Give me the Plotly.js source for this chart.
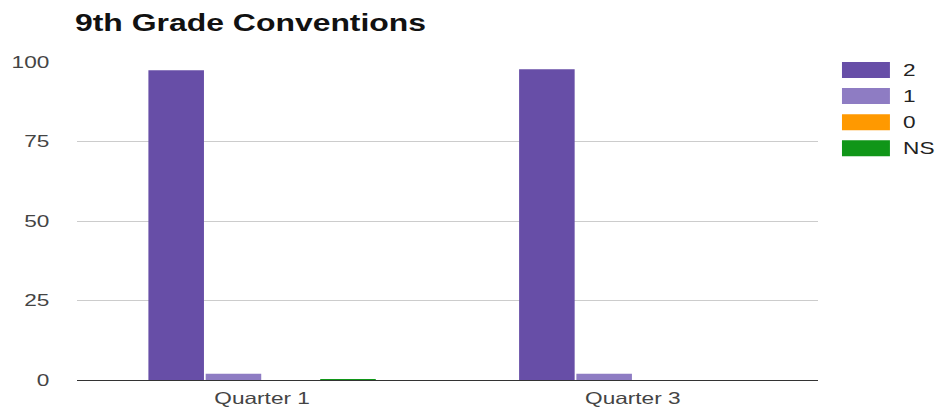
<!DOCTYPE html>
<html>
<head>
<meta charset="utf-8">
<script src="https://cdn.plot.ly/plotly-3.0.1.min.js"></script>
<style>
  html, body { margin: 0; padding: 0; background: #fff; overflow: hidden; }
  #wrap { width: 936px; height: 409px; overflow: hidden; }
  #chart { width: 683px; height: 409px; transform: scaleX(1.37042); transform-origin: 0 0; }
</style>
</head>
<body>
<div id="wrap"><div id="chart"></div></div>
<script>
// ---- data ----
const categories = ['Quarter 1', 'Quarter 3'];
const seriesNames = ['2', '1', '0', 'NS'];
const values2 = [97.4, 97.7];
const values1 = [2.0, 2.0];
const values0 = [0, 0];
const valuesNS = [0.3, 0];
const yTicks = [0, 25, 50, 75, 100];
const chartTitle = '9th Grade Conventions';

// ---- styles ----
const colors = ['#674ea7', '#8e7cc3', '#ff9900', '#109618'];
const seriesValues = [values2, values1, values0, valuesNS];
const FONT = 'Liberation Sans, Arial, sans-serif';

const W = 683, H = 409;
const margin = {l: 55.5, r: 86, t: 61.7, b: 29};
const plotW = W - margin.l - margin.r;
const plotH = H - margin.t - margin.b;
const S = 936 / 683;
// convert reference pixel coords to paper coords
const px = x => (x / S - margin.l) / plotW;
const py = y => (H - margin.b - y) / plotH;

const traces = seriesNames.map((name, i) => ({
  type: 'bar',
  name: name,
  x: categories,
  y: seriesValues[i],
  marker: {color: colors[i]},
  hoverinfo: 'none'
}));

const shapes = [];
const annotations = [];
seriesNames.forEach((name, i) => {
  const top = 61.7 + i * 26.1;
  shapes.push({
    type: 'rect', xref: 'paper', yref: 'paper',
    x0: px(842), x1: px(890), y0: py(top + 16), y1: py(top),
    fillcolor: colors[i], line: {width: 0}
  });
  annotations.push({
    xref: 'paper', yref: 'paper', x: px(900), y: py(top + 8),
    xanchor: 'left', yanchor: 'middle', showarrow: false,
    text: name, font: {family: FONT, size: 16.5, color: '#222'}
  });
});

const layout = {
  width: W, height: H,
  margin: margin,
  paper_bgcolor: '#fff', plot_bgcolor: '#fff',
  showlegend: false,
  barmode: 'group',
  bargap: 0.382,
  bargroupgap: 0.03,
  title: {
    text: '<b>' + chartTitle + '</b>',
    x: 75 / S / W, xref: 'container', xanchor: 'left',
    y: 1 - 23 / H, yref: 'container', yanchor: 'middle',
    font: {family: FONT, size: 23.3, color: '#111'}
  },
  xaxis: {
    type: 'category',
    showgrid: false,
    showline: true, linecolor: '#333', linewidth: 1.2,
    ticks: '', tickfont: {family: FONT, size: 16.5, color: '#444'},
    ticklabelstandoff: 3,
    zeroline: false
  },
  yaxis: {
    range: [0, 100],
    tickvals: yTicks,
    ticktext: yTicks.map(String),
    showgrid: true, gridcolor: '#cccccc', gridwidth: 1,
    zeroline: false, showline: false,
    ticks: '', tickfont: {family: FONT, size: 16.5, color: '#444'},
    ticklabelstandoff: 19
  },
  shapes: shapes,
  annotations: annotations,
  hovermode: false
};

Plotly.newPlot('chart', traces, layout, {displayModeBar: false, staticPlot: true});
</script>
</body>
</html>
